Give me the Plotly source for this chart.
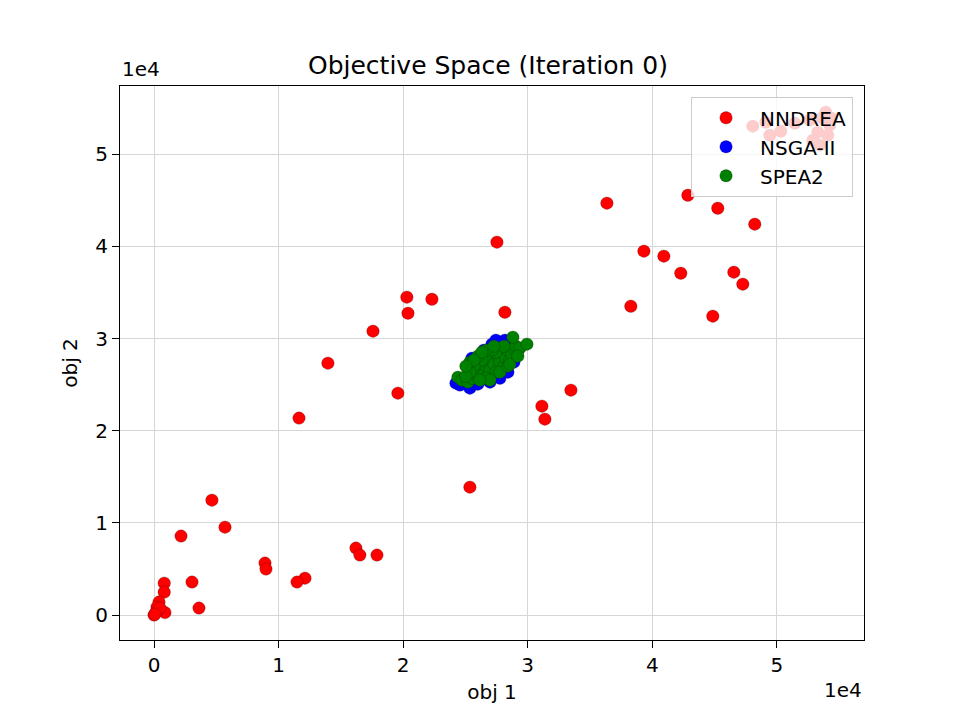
import plotly.graph_objects as go

# values are in units of 1e4 (as shown by the axis offset labels)
nndrea_obj1 = [3.636, 4.286, 4.526, 4.823, 3.933, 4.093, 4.229, 4.655, 4.727, 3.828,
               4.486, 2.753, 2.030, 2.231, 2.039, 2.817, 1.758, 1.396, 1.958, 1.164,
               3.114, 3.138, 3.347, 2.536, 0.465, 0.570, 0.217, 0.891, 0.899, 1.621,
               1.653, 1.790, 1.212, 1.148, 0.305, 0.361, 0.082, 0.082, 0.088, 0.040,
               0.024, 0.000, 0.016, 0.048, 0.008,
               4.807, 4.912, 4.944, 5.032, 5.145, 5.265, 5.329, 5.361, 5.393, 5.425,
               5.409, 5.345, 5.289, 5.441]
nndrea_obj2 = [4.469, 4.555, 4.414, 4.241, 3.948, 3.894, 3.709, 3.720, 3.590, 3.351,
               3.243, 4.046, 3.449, 3.427, 3.275, 3.286, 3.080, 2.733, 2.408, 2.137,
               2.267, 2.126, 2.440, 1.388, 1.247, 0.954, 0.857, 0.564, 0.499, 0.727,
               0.651, 0.651, 0.401, 0.358, 0.358, 0.076, 0.347, 0.249, 0.027, 0.141,
               0.087, 0.000, 0.033, 0.076, 0.011,
               5.304, 5.347, 5.206, 5.249, 5.336, 5.369, 5.239, 5.390, 5.456, 5.315,
               5.206, 5.098, 5.152, 5.390]

nsga2_obj1 = [2.424, 2.456, 2.536, 2.600, 2.697, 2.777, 2.841, 2.889, 2.905, 2.793,
              2.817, 2.737, 2.657, 2.576, 2.496, 2.873, 2.921, 2.761, 2.681, 2.616,
              2.552, 2.648, 2.713, 2.745]
nsga2_obj2 = [2.516, 2.495, 2.462, 2.505, 2.527, 2.570, 2.636, 2.744, 2.831, 2.961,
              2.983, 2.831, 2.657, 2.592, 2.549, 2.918, 2.874, 2.722, 2.787, 2.701,
              2.787, 2.874, 2.939, 2.983]

spea2_obj1 = [2.440, 2.472, 2.520, 2.552, 2.584, 2.616, 2.600, 2.648, 2.665, 2.681,
              2.697, 2.713, 2.729, 2.745, 2.761, 2.777, 2.793, 2.809, 2.825, 2.841,
              2.857, 2.873, 2.889, 2.905, 2.881, 2.937, 2.994, 2.745, 2.632, 2.665,
              2.568, 2.536, 2.777, 2.697, 2.504, 2.809, 2.713, 2.841, 2.616,
              2.536, 2.600, 2.665, 2.729, 2.632, 2.568, 2.504, 2.857, 2.921]
spea2_obj2 = [2.581, 2.549, 2.527, 2.570, 2.636, 2.679, 2.592, 2.614, 2.701, 2.744,
              2.657, 2.787, 2.722, 2.636, 2.809, 2.744, 2.852, 2.701, 2.787, 2.874,
              2.766, 2.831, 2.896, 2.918, 3.015, 2.896, 2.939, 2.852, 2.766, 2.570,
              2.701, 2.636, 2.636, 2.549, 2.592, 2.918, 2.874, 2.701, 2.549,
              2.744, 2.809, 2.874, 2.918, 2.852, 2.766, 2.701, 2.722, 2.809]

tick_vals = [0, 1, 2, 3, 4, 5]
tick_text = ["0", "1", "2", "3", "4", "5"]

series = [
    ("NNDREA", nndrea_obj1, nndrea_obj2, "red"),
    ("NSGA-II", nsga2_obj1, nsga2_obj2, "blue"),
    ("SPEA2", spea2_obj1, spea2_obj2, "green"),
]

fig = go.Figure()
for name, xs, ys, color in series:
    fig.add_trace(go.Scatter(
        x=xs, y=ys, mode="markers", name=name,
        marker=dict(color=color, size=12.5,
                    line=dict(color="rgba(0,0,0,0.35)", width=0.6)),
    ))

font = "DejaVu Sans"
axis_common = dict(
    showline=True, linecolor="black", linewidth=1.2, mirror=True,
    ticks="outside", ticklen=7, tickcolor="black", tickwidth=1.2,
    showgrid=True, gridcolor="#d6d6d6", gridwidth=1.2, zeroline=False,
    tickfont=dict(family=font, size=20, color="black"),
    tickvals=tick_vals, ticktext=tick_text,
)

# page is offset by the 8px body margin, so margins are shifted accordingly
fig.update_xaxes(range=[-0.273, 5.70],
                 title=dict(text="obj 1", font=dict(family=font, size=20, color="black"), standoff=8),
                 **axis_common)
fig.update_yaxes(range=[-0.27, 5.74],
                 title=dict(text="obj 2", font=dict(family=font, size=20, color="black"), standoff=12),
                 **axis_common)

fig.update_layout(
    width=960, height=720,
    margin=dict(l=112, r=104, t=78, b=88),
    paper_bgcolor="white", plot_bgcolor="white",
    title=dict(text="Objective Space (Iteration 0)", x=0.5, xanchor="center",
               y=0.92, yanchor="middle",
               font=dict(family=font, size=25, color="black")),
    legend=dict(x=0.985, y=0.98, xanchor="right", yanchor="top",
                bgcolor="rgba(255,255,255,0.8)", bordercolor="#cccccc", borderwidth=1.2,
                itemwidth=58,
                font=dict(family=font, size=20, color="black")),
    annotations=[
        dict(text="1e4", xref="paper", yref="paper", x=0, y=1.005,
             xanchor="left", yanchor="bottom", showarrow=False,
             font=dict(family=font, size=20, color="black")),
        dict(text="1e4", xref="paper", yref="paper", x=1, y=-0.065,
             xanchor="right", yanchor="top", showarrow=False,
             font=dict(family=font, size=20, color="black")),
    ],
)

fig.write_html("out.html")
